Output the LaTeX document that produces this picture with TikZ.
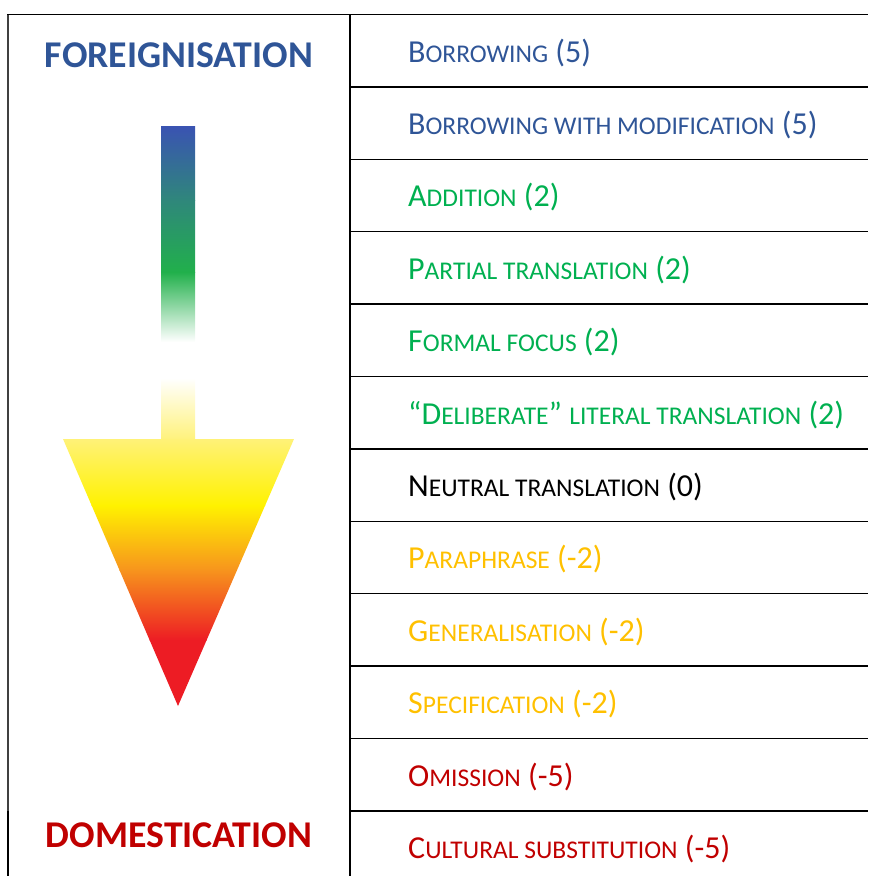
\documentclass[tikz,border=0pt]{standalone}
\usepackage{fontspec}
\setmainfont{Carlito}
\definecolor{cblue}{HTML}{2F5597}
\definecolor{cgreen}{HTML}{00B050}
\definecolor{corange}{HTML}{FFC000}
\definecolor{cred}{HTML}{C00000}
\definecolor{sblue}{HTML}{3A53B2}
\definecolor{steal}{HTML}{2F877B}
\definecolor{sgreen}{HTML}{21B04B}
\definecolor{spale}{HTML}{FFF27A}
\definecolor{syel}{HTML}{FFF200}
\definecolor{sorange}{HTML}{F7941D}
\definecolor{sred}{HTML}{ED1C24}
\newcommand{\smc}[1]{{\fontsize{25.5}{25.5}\selectfont #1}}
\begin{document}
\begin{tikzpicture}[x=1pt,y=-1pt,
  item/.style={anchor=base west, inner sep=0pt, font=\fontsize{32}{32}\selectfont},
  pole/.style={anchor=base, inner sep=0pt, font=\fontsize{37.8}{37.8}\selectfont\bfseries},
  rule/.style={line width=1.4pt, draw=black}]
\useasboundingbox (0,0) rectangle (868,876);
% table
\draw[line width=1.2pt, draw=black!75] (8,14.5) -- (8,812);
\draw[line width=1.8pt] (8,811) -- (8,876);
\draw[rule] (7.3,14.5) -- (868,14.5);
\draw[line width=1.1pt] (350,14.5) -- (350,876);
\foreach \k in {1,...,11} {
  \draw[rule] (350,14.5+72.4*\k) -- (868,14.5+72.4*\k);
}
% poles
\node[pole, text=cblue] (fore) at (179,67) {FOREIGNISATION};
\node[pole, text=cred] (dome) at (179,847) {DOMESTICATION};
% arrow shaft
\shade[top color=sblue, bottom color=steal] (161,126) rectangle (195,200.5);
\shade[top color=steal, bottom color=sgreen] (161,200) rectangle (195,272.5);
\shade[top color=sgreen, bottom color=white] (161,272) rectangle (195,342);
\shade[top color=white, bottom color=spale] (161,378) rectangle (195,440);
% arrow head
\begin{scope}
\clip (63,439) -- (294,439) -- (178,706) -- cycle;
\shade[top color=spale, bottom color=syel] (60,438) rectangle (300,505.5);
\shade[top color=syel, bottom color=sorange] (60,505) rectangle (300,570.5);
\shade[top color=sorange, bottom color=sred] (60,570) rectangle (300,640.5);
\fill[sred] (60,640) rectangle (300,710);
\end{scope}
% items
\node[item, text=cblue] (r0) at (408,62) {B\smc{ORROWING} (5)};
\node[item, text=cblue] (r1) at (408,134.4) {B\smc{ORROWING WITH MODIFICATION} (5)};
\node[item, text=cgreen] (r2) at (408,206.8) {A\smc{DDITION} (2)};
\node[item, text=cgreen] (r3) at (408,279.2) {P\smc{ARTIAL TRANSLATION} (2)};
\node[item, text=cgreen] (r4) at (408,351.6) {F\smc{ORMAL FOCUS} (2)};
\node[item, text=cgreen] (r5) at (408,424) {“D\smc{ELIBERATE}” \smc{LITERAL TRANSLATION} (2)};
\node[item, text=black] (r6) at (408,496.4) {N\smc{EUTRAL TRANSLATION} (0)};
\node[item, text=corange] (r7) at (408,568.8) {P\smc{ARAPHRASE} (-2)};
\node[item, text=corange] (r8) at (408,641.2) {G\smc{ENERALISATION} (-2)};
\node[item, text=corange] (r9) at (408,713.6) {S\smc{PECIFICATION} (-2)};
\node[item, text=cred] (r10) at (408,786) {O\smc{MISSION} (-5)};
\node[item, text=cred] (r11) at (408,858.4) {C\smc{ULTURAL SUBSTITUTION} (-5)};
\end{tikzpicture}
\end{document}
